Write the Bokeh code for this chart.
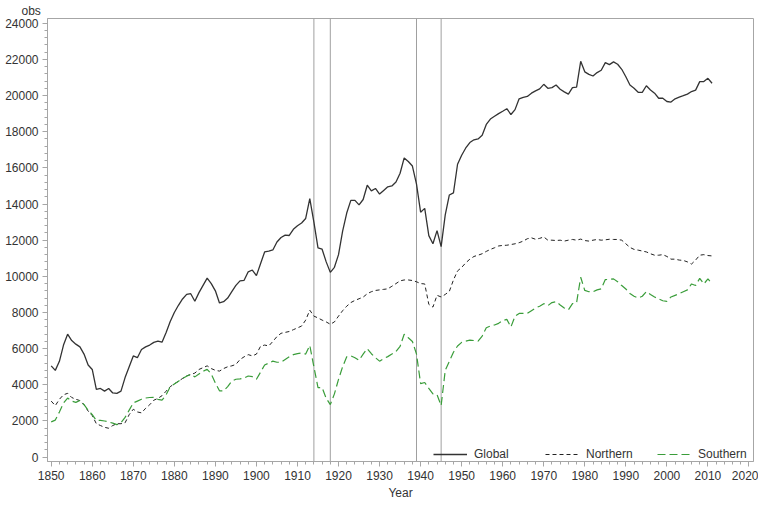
from bokeh.plotting import figure
from bokeh.embed import file_html
from bokeh.resources import INLINE
from bokeh.models import (Span, Title, Legend, LegendItem, SingleIntervalTicker,
                          Range1d)

years = list(range(1850, 2012))

global_obs = [
    5050, 4800, 5300, 6200, 6800, 6450, 6250, 6100, 5700, 5100,
    4850, 3750, 3800, 3650, 3800, 3550, 3530, 3650, 4400, 5000,
    5600, 5500, 5950, 6100, 6200, 6350, 6420, 6360, 6900, 7500,
    8000, 8400, 8750, 9000, 9040, 8620, 9100, 9500, 9900, 9600,
    9200, 8530, 8600, 8800, 9150, 9500, 9750, 9780, 10250, 10350,
    10040, 10700, 11350, 11400, 11460, 11900, 12150, 12280, 12260, 12600,
    12800, 12950, 13200, 14300, 13000, 11580, 11500, 10800, 10220, 10500,
    11200, 12500, 13500, 14200, 14200, 13950, 14250, 15040, 14730, 14860,
    14550, 14750, 14950, 15000, 15220, 15700, 16550, 16350, 16100, 15100,
    13550, 13760, 12250, 11800, 12530, 11640, 13400, 14500, 14620, 16200,
    16700, 17100, 17400, 17550, 17600, 17800, 18400, 18700, 18850, 19000,
    19130, 19270, 18950, 19220, 19820, 19900, 19950, 20130, 20260, 20370,
    20620, 20400, 20440, 20580, 20350, 20200, 20080, 20440, 20460, 21890,
    21310, 21170, 21080, 21270, 21400, 21820, 21710, 21860, 21730, 21450,
    21040, 20580, 20400, 20180, 20170, 20540, 20310, 20130, 19850, 19850,
    19670, 19640, 19820, 19910, 19990, 20080, 20220, 20300, 20770, 20770,
    20950, 20680,
]

northern_obs = [
    3100, 2850, 3200, 3450, 3530, 3300, 3200, 3130, 2900, 2550,
    2300, 1850, 1750, 1650, 1600, 1750, 1850, 1850, 1900, 2350,
    2650, 2500, 2450, 2700, 2900, 3150, 3250, 3400, 3650, 3900,
    4050, 4200, 4350, 4500, 4570, 4650, 4850, 4950, 5050, 4900,
    4800, 4760, 4900, 5000, 5050, 5130, 5400, 5550, 5670, 5600,
    5700, 6130, 6200, 6150, 6400, 6670, 6850, 6900, 6950, 7050,
    7150, 7250, 7580, 8130, 7800, 7700, 7580, 7480, 7350, 7480,
    7800, 8100, 8350, 8550, 8670, 8760, 8850, 9040, 9150, 9220,
    9250, 9280, 9310, 9450, 9600, 9750, 9800, 9800, 9770, 9700,
    9600, 9580, 8450, 8300, 8950, 8860, 9000, 9170, 9800, 10300,
    10490, 10750, 10950, 11100, 11170, 11250, 11380, 11490, 11580, 11680,
    11710, 11720, 11760, 11800, 11860, 11950, 12080, 12130, 12050, 12100,
    12180, 12000, 12000, 11980, 12000, 11950, 12000, 12040, 12000, 12060,
    11980, 11950, 12000, 12040, 12000, 12020, 12050, 12040, 12040, 12000,
    11800, 11600, 11490, 11450, 11400, 11350, 11250, 11170, 11170, 11200,
    11100, 10950, 10950, 10900, 10880, 10800, 10680, 10900, 11170, 11200,
    11150, 11130,
]

southern_obs = [
    1950, 2050, 2500, 3000, 3270, 3100, 3030, 3130, 2900, 2600,
    2350, 2030, 2030, 2000, 1950, 1880, 1800, 1900, 2200, 2600,
    3000, 3100, 3200, 3270, 3300, 3310, 3200, 3150, 3450, 3900,
    4050, 4200, 4350, 4480, 4580, 4440, 4600, 4750, 4860, 4600,
    4100, 3670, 3670, 3900, 4200, 4310, 4330, 4380, 4490, 4450,
    4310, 4700, 5100, 5200, 5310, 5250, 5250, 5400, 5550, 5670,
    5730, 5760, 5700, 6180, 5000, 3850, 3850, 3250, 2910, 3500,
    4300, 5000, 5550, 5600, 5500, 5360, 5700, 6000, 5720, 5500,
    5310, 5450, 5560, 5700, 5850, 6130, 6800, 6600, 6400, 5700,
    4070, 4130, 3800, 3500, 3450, 2850, 4800, 5300, 5800, 6150,
    6350, 6420, 6470, 6450, 6420, 6700, 7160, 7250, 7310, 7400,
    7550, 7620, 7200, 7800, 7950, 7950, 7950, 8100, 8250, 8350,
    8490, 8380, 8550, 8600, 8420, 8250, 8150, 8490, 8540, 9950,
    9220, 9150, 9150, 9250, 9310, 9820, 9830, 9860, 9700, 9490,
    9300, 9050, 8900, 8800, 8900, 9160, 9000, 8860, 8750, 8650,
    8620, 8860, 8950, 9040, 9150, 9250, 9580, 9490, 9890, 9580,
    9860, 9580,
]

ref_years = [1914, 1918, 1939, 1945]
series_names = ["Global", "Northern", "Southern"]
x_label = "Year"
y_label = "obs"

FONT = "Liberation Sans"
FS = "12px"
TXT = "#333333"
AX = "#a6a6a6"

p = figure(width=758, height=502,
           x_range=Range1d(1849.1, 2021.1), y_range=Range1d(-240, 24260),
           output_backend="svg", toolbar_location=None,
           min_border_left=47, min_border_right=5, min_border_top=18,
           min_border_bottom=0)

p.xgrid.visible = False
p.ygrid.visible = False
p.outline_line_color = AX
p.background_fill_color = "white"

p.xaxis.ticker = SingleIntervalTicker(interval=10, num_minor_ticks=5)
p.yaxis.ticker = SingleIntervalTicker(interval=2000, num_minor_ticks=5)
for ax in (p.xaxis[0], p.yaxis[0]):
    ax.axis_line_color = AX
    ax.major_tick_line_color = AX
    ax.minor_tick_line_color = AX
    ax.major_tick_in = 0
    ax.major_tick_out = 5
    ax.minor_tick_in = 0
    ax.minor_tick_out = 3
    ax.major_label_standoff = 4
    ax.major_label_text_font = FONT
    ax.major_label_text_font_size = FS
    ax.major_label_text_color = TXT
    ax.axis_label_text_font = FONT
    ax.axis_label_text_font_size = FS
    ax.axis_label_text_color = TXT
    ax.axis_label_text_font_style = "normal"

p.xaxis.axis_label = x_label
p.xaxis.axis_label_standoff = 3

for yr in ref_years:
    p.add_layout(Span(location=yr, dimension="height", line_color="#a0a0a0",
                      line_width=1, level="underlay"))

r_g = p.line(years, global_obs, line_color="#333333", line_width=1.3)
r_n = p.line(years, northern_obs, line_color="#222222", line_width=1,
             line_dash="4 3")
r_s = p.line(years, southern_obs, line_color="#3a9d3a", line_width=1.2,
             line_dash="8 4")

legend = Legend(items=[LegendItem(label=series_names[0], renderers=[r_g]),
                       LegendItem(label=series_names[1], renderers=[r_n]),
                       LegendItem(label=series_names[2], renderers=[r_s])],
                orientation="horizontal", location=(386, -3),
                glyph_width=34, glyph_height=20, label_standoff=7,
                label_width=50, spacing=21, padding=0, margin=0,
                border_line_color=None, background_fill_alpha=0,
                label_text_font=FONT, label_text_font_size=FS,
                label_text_color=TXT)
p.add_layout(legend)

p.add_layout(Title(text=y_label, align="left", offset=-26, standoff=1,
                   text_font=FONT, text_font_size=FS, text_color=TXT,
                   text_font_style="normal"), "above")

open("out.html", "w").write(file_html(p, INLINE))
